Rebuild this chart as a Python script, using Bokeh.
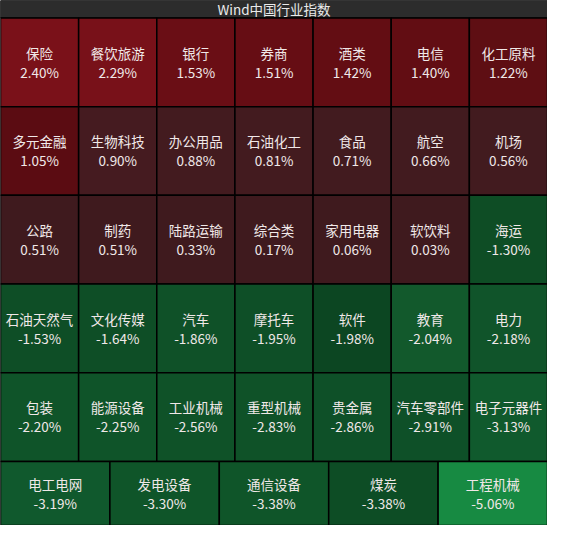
from bokeh.plotting import figure
from bokeh.models import Range1d, ColumnDataSource
from bokeh.core.properties import value
from bokeh.embed import file_html
from bokeh.resources import INLINE

title = "Wind中国行业指数"

names = ["保险", "餐饮旅游", "银行", "券商", "酒类", "电信", "化工原料",
         "多元金融", "生物科技", "办公用品", "石油化工", "食品", "航空", "机场",
         "公路", "制药", "陆路运输", "综合类", "家用电器", "软饮料", "海运",
         "石油天然气", "文化传媒", "汽车", "摩托车", "软件", "教育", "电力",
         "包装", "能源设备", "工业机械", "重型机械", "贵金属", "汽车零部件", "电子元器件",
         "电工电网", "发电设备", "通信设备", "煤炭", "工程机械"]
changes = [2.40, 2.29, 1.53, 1.51, 1.42, 1.40, 1.22,
           1.05, 0.90, 0.88, 0.81, 0.71, 0.66, 0.56,
           0.51, 0.51, 0.33, 0.17, 0.06, 0.03, -1.30,
           -1.53, -1.64, -1.86, -1.95, -1.98, -2.04, -2.18,
           -2.20, -2.25, -2.56, -2.83, -2.86, -2.91, -3.13,
           -3.19, -3.30, -3.38, -3.38, -5.06]
colors = ["#7a1119", "#781119", "#6a0e15", "#660d14", "#630d13", "#620d13", "#5e0e13",
          "#5b0c12", "#451b20", "#431b1f", "#431b1f", "#421b1f", "#421b1f", "#421b1f",
          "#3f1a1e", "#3f1a1e", "#3f1a1e", "#3f1a1e", "#3f1a1e", "#3f1a1e", "#0e4d25",
          "#0e4e26", "#0e4e26", "#0f5128", "#0e4f27", "#0c4622", "#12592c", "#10542a",
          "#0f5429", "#0f5429", "#0f5228", "#0f5228", "#0e5028", "#0e5028", "#105a2d",
          "#10592d", "#0f5529", "#0f5529", "#0d4d25", "#178a42"]
row_counts = [7, 7, 7, 7, 7, 5]

W, H = 563, 541
TITLE_H = 18
MAIN_ROW_H = (475 - TITLE_H) / 5
LAST_ROW_H = H - 475

lefts, rights, tops, bottoms, cx, cy = [], [], [], [], [], []
y0 = TITLE_H
for r, n in enumerate(row_counts):
    rh = MAIN_ROW_H if r < 5 else LAST_ROW_H
    cw = W / n
    for c in range(n):
        lefts.append(c * cw)
        rights.append((c + 1) * cw)
        tops.append(y0)
        bottoms.append(y0 + rh)
        cx.append(c * cw + cw / 2)
        cy.append(y0 + rh / 2)
    y0 += rh

labels_pct = ["%.2f%%" % v for v in changes]
src = ColumnDataSource(dict(left=lefts, right=rights, top=tops, bottom=bottoms,
                            color=colors, x=cx, ylab=[y - 10 for y in cy],
                            yval=[y + 9.5 for y in cy], name=names, pct=labels_pct))

p = figure(width=547, height=525, output_backend="svg", toolbar_location=None,
           x_range=Range1d(0, W), y_range=Range1d(H, 0), min_border=0)
p.axis.visible = False
p.grid.visible = False
p.outline_line_color = None
p.background_fill_color = "#000000"
p.border_fill_color = "#000000"

p.quad(left=[0], right=[W], top=[0], bottom=[TITLE_H], fill_color="#2c2c2c",
       line_color="#000000", line_width=1)
p.text(x=[W / 2], y=[TITLE_H / 2], text=[title], text_align="center",
       text_baseline="middle", text_font=value("Noto Sans CJK SC"),
       text_font_size="13.5px", text_color="#eaeaea")

p.quad(left="left", right="right", top="top", bottom="bottom", fill_color="color",
       line_color="#000000", line_width=1.5, source=src)
p.text(x="x", y="ylab", text="name", text_align="center", text_baseline="middle",
       text_font=value("Noto Sans CJK SC"), text_font_size="13.5px",
       text_color="#f0e8e8", source=src)
p.text(x="x", y="yval", text="pct", text_align="center", text_baseline="middle",
       text_font=value("Noto Sans CJK SC"), text_font_size="13.5px",
       text_color="#f0e8e8", source=src)

open("out.html", "w").write(file_html(p, INLINE))
